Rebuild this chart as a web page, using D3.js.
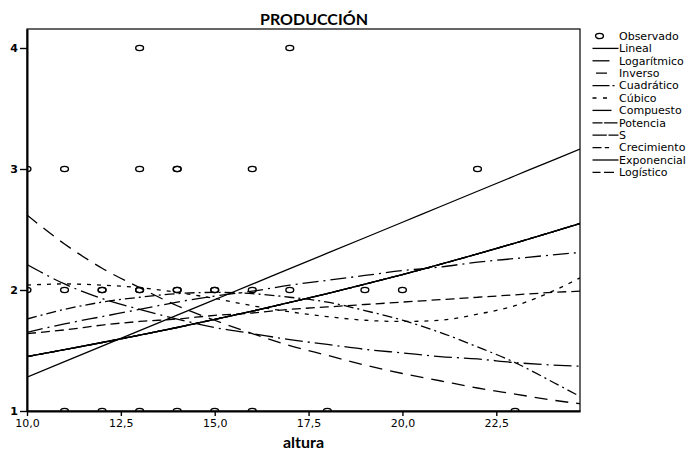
<!DOCTYPE html>
<html>
<head>
<meta charset="utf-8">
<script src="https://cdnjs.cloudflare.com/ajax/libs/d3/7.8.5/d3.min.js"></script>
<style>
body { margin: 0; background: #fff; }
svg text { font-family: "DejaVu Sans", sans-serif; fill: #000; }
</style>
</head>
<body>
<svg id="chart"></svg>
<script>
// observed points (altura, producción) - repeated pairs are drawn twice
const obsX = [13, 17,
	10, 11, 13, 14, 14, 16, 22,
	10, 11, 12, 12, 13, 13, 14, 14, 15, 15, 16, 17, 19, 20,
	11, 12, 13, 14, 15, 16, 18, 23]
const obsY = [4, 4,
	3, 3, 3, 3, 3, 3, 3,
	2, 2, 2, 2, 2, 2, 2, 2, 2, 2, 2, 2, 2, 2,
	1, 1, 1, 1, 1, 1, 1, 1]

// fitted curves at these x positions
const xGrid = [10, 11, 12, 13, 14, 15, 16, 17, 18, 19, 20, 21, 22, 23, 24, 24.73]
const lineal = [1.280, 1.408, 1.536, 1.664, 1.792, 1.920, 2.048, 2.176, 2.304, 2.432, 2.560, 2.688, 2.816, 2.944, 3.072, 3.165]
const logaritmico = [1.65, 1.72, 1.78, 1.84, 1.90, 1.95, 1.99, 2.04, 2.08, 2.12, 2.16, 2.19, 2.23, 2.26, 2.29, 2.31]
const inverso = [2.62, 2.38, 2.18, 2.02, 1.87, 1.75, 1.64, 1.54, 1.46, 1.38, 1.31, 1.25, 1.19, 1.14, 1.09, 1.06]
const cuadratico = [1.76, 1.84, 1.90, 1.94, 1.97, 1.98, 1.97, 1.94, 1.90, 1.83, 1.75, 1.65, 1.53, 1.40, 1.24, 1.12]
const cubico = [2.04, 2.05, 2.04, 2.02, 1.98, 1.93, 1.87, 1.82, 1.78, 1.75, 1.74, 1.75, 1.80, 1.87, 1.99, 2.10]
const compuesto = [1.450, 1.507, 1.566, 1.627, 1.690, 1.757, 1.825, 1.897, 1.971, 2.048, 2.128, 2.211, 2.298, 2.388, 2.481, 2.550]
const potencia = [1.64, 1.67, 1.71, 1.74, 1.76, 1.79, 1.81, 1.84, 1.86, 1.88, 1.90, 1.92, 1.94, 1.96, 1.98, 1.99]
const curvaS = [2.21, 2.05, 1.93, 1.84, 1.76, 1.69, 1.64, 1.59, 1.55, 1.51, 1.48, 1.45, 1.43, 1.40, 1.38, 1.37]
const crecimiento = compuesto
const exponencial = compuesto
const logistico = compuesto

const models = ['Lineal', 'Logarítmico', 'Inverso', 'Cuadrático', 'Cúbico', 'Compuesto',
	'Potencia', 'S', 'Crecimiento', 'Exponencial', 'Logístico']
const series = [lineal, logaritmico, inverso, cuadratico, cubico, compuesto,
	potencia, curvaS, crecimiento, exponencial, logistico]

const xTicks = [10, 12.5, 15, 17.5, 20, 22.5]
const yTicks = [1, 2, 3, 4]

// line styles: dash in the plot, dash of the short legend sample
const styles = {
	'Lineal': { dash: null, key: null },
	'Logarítmico': { dash: '16,5,2,5', key: '17,20' },
	'Inverso': { dash: '13,8', key: '0,3.5,11,20' },
	'Cuadrático': { dash: '10,4,2,4', key: '17,3,2,20' },
	'Cúbico': { dash: '4,6', key: '4,6.5,4,20' },
	'Compuesto': { dash: null, key: '19,20' },
	'Potencia': { dash: '9,5', key: '10,1.6,13.4,20' },
	'S': { dash: '18,5,2,5', key: '14.3,1.7,10,20' },
	'Crecimiento': { dash: '9,4,4,4', key: '9,3.3,4.3,20' },
	'Exponencial': { dash: null, key: null },
	'Logístico': { dash: '8,4', key: '8,3.5,10,20' }
}

const width = 692, height = 452
const margin = { top: 29, right: 112, bottom: 41, left: 27 }

const svg = d3.select('#chart')
	.attr('width', width)
	.attr('height', height)

const x = d3.scaleLinear().domain([10, 24.73]).range([margin.left, width - margin.right])
const y = d3.scaleLinear().domain([1, 4.157]).range([height - margin.bottom, margin.top])

const esES = d3.formatLocale({ decimal: ',', thousands: '.', grouping: [3], currency: ['', ' €'] })

svg.append('defs').append('clipPath').attr('id', 'plot')
	.append('rect')
	.attr('x', x(10)).attr('y', y(4.157))
	.attr('width', x(24.73) - x(10)).attr('height', y(1) - y(4.157))

// frame
svg.append('rect')
	.attr('x', x(10)).attr('y', y(4.157))
	.attr('width', x(24.73) - x(10)).attr('height', y(1) - y(4.157))
	.attr('fill', 'none').attr('stroke', '#000').attr('stroke-width', 1.2)

const plot = svg.append('g').attr('clip-path', 'url(#plot)')

const line = d3.line()
	.x((d, i) => x(xGrid[i]))
	.y(d => y(d))
	.curve(d3.curveMonotoneX)

models.forEach((m, k) => {
	plot.append('path')
		.datum(series[k])
		.attr('d', line)
		.attr('fill', 'none')
		.attr('stroke', '#000')
		.attr('stroke-width', 1.3)
		.attr('stroke-dasharray', styles[m].dash)
})

plot.selectAll('ellipse.obs')
	.data(obsX)
	.join('ellipse')
	.attr('class', 'obs')
	.attr('cx', d => x(d))
	.attr('cy', (d, i) => y(obsY[i]))
	.attr('rx', 3.9).attr('ry', 2.6)
	.attr('fill', 'none').attr('stroke', '#000').attr('stroke-width', 1.4)

// axes
const yAxis = d3.axisLeft(y).tickValues(yTicks).tickSize(7).tickSizeOuter(0).tickPadding(2)
	.tickFormat(d3.format('d'))
const xAxis = d3.axisBottom(x).tickValues(xTicks).tickSize(5).tickSizeOuter(0).tickPadding(3)
	.tickFormat(esES.format('.1f'))

const gy = svg.append('g').attr('transform', `translate(${x(10)},0)`).call(yAxis)
const gx = svg.append('g').attr('transform', `translate(0,${y(1)})`).call(xAxis)

gy.select('.domain').attr('stroke-width', 2)
gx.select('.domain').attr('stroke-width', 2)
svg.selectAll('.tick line').attr('stroke-width', 1.4)
svg.selectAll('.tick text').attr('font-size', 11).attr('font-family', '"DejaVu Sans", sans-serif')
gy.selectAll('.tick text').attr('font-weight', 'bold')

// titles
svg.append('text')
	.attr('x', 314).attr('y', 25)
	.attr('text-anchor', 'middle')
	.style('font-family', 'Lato, sans-serif')
	.style('font-weight', 'bold')
	.style('font-size', '16px')
	.text('PRODUCCIÓN')

svg.append('text')
	.attr('x', (x(10) + x(24.73)) / 2).attr('y', 448)
	.attr('text-anchor', 'middle')
	.style('font-family', 'Lato, sans-serif')
	.style('font-weight', 'bold')
	.style('font-size', '16px')
	.text('altura')

// legend
const legend = svg.append('g').attr('transform', 'translate(592,36)')
const rowH = 12.4

legend.append('ellipse')
	.attr('cx', 7.5).attr('cy', 0)
	.attr('rx', 3.9).attr('ry', 2.6)
	.attr('fill', 'none').attr('stroke', '#000').attr('stroke-width', 1.4)
legend.append('text')
	.attr('x', 27).attr('y', 0).attr('dy', '0.35em')
	.attr('font-size', 11)
	.text('Observado')

const rows = legend.selectAll('g.row')
	.data(models)
	.join('g')
	.attr('class', 'row')
	.attr('transform', (d, i) => `translate(0,${(i + 1) * rowH})`)

rows.append('line')
	.attr('x1', 0.5).attr('x2', 26.5)
	.attr('stroke', '#000').attr('stroke-width', 1.3)
	.attr('stroke-dasharray', d => styles[d].key)
rows.append('text')
	.attr('x', 27).attr('dy', '0.35em')
	.attr('font-size', 11)
	.text(d => d)
</script>
</body>
</html>
